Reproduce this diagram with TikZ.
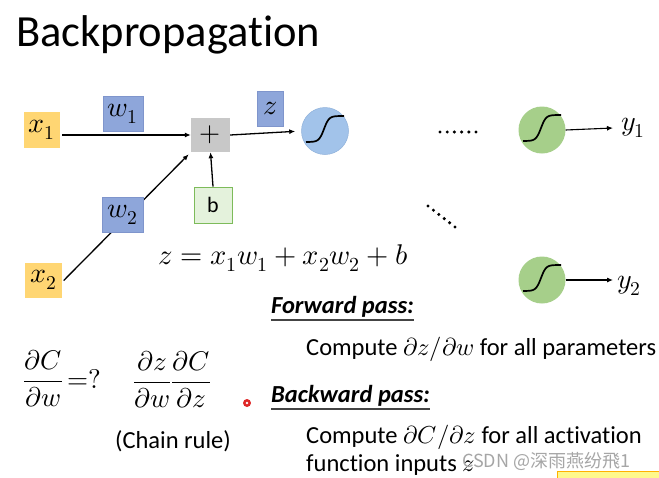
\documentclass[tikz,border=0pt]{standalone}
\usepackage{fontspec}
\setmainfont{Carlito}[Ligatures=NoCommon]
\usepackage{unicode-math}
\setmathfont{Latin Modern Math}
\newfontfamily\cjk{Noto Sans CJK SC}
\usetikzlibrary{arrows.meta,calc}
\definecolor{xyel}{HTML}{FFD673}
\definecolor{wblue}{HTML}{8EA6DA}
\definecolor{wblueb}{HTML}{7F95CC}
\definecolor{pgray}{HTML}{C8C8C8}
\definecolor{bgreen}{HTML}{E4F2DC}
\definecolor{bgreenb}{HTML}{7DBB5A}
\definecolor{cblue}{HTML}{A2C3EA}
\definecolor{cblueb}{HTML}{8FB1DA}
\definecolor{cgreen}{HTML}{A6CF8A}
\definecolor{uline}{HTML}{444444}
\tikzset{
  sz/.style={font=\fontsize{#1}{#1}\selectfont},
  xbox/.style={rectangle, fill=xyel, inner sep=0pt, minimum width=36pt, minimum height=36pt, sz=28},
  wbox/.style={rectangle, fill=wblue, draw=wblueb, line width=0.6pt, inner sep=0pt, minimum height=35pt, sz=28},
  pbox/.style={rectangle, fill=pgray, inner sep=0pt, minimum width=39pt, minimum height=34pt, sz=27},
  bbox/.style={rectangle, fill=bgreen, draw=bgreenb, line width=0.8pt, inner sep=0pt, minimum width=38pt, minimum height=36pt, sz=22},
  neuron/.style={circle, inner sep=0pt, minimum size=47pt},
  arr/.style={-{Latex[length=6pt,width=5pt]}, line width=1.3pt},
  sig/.style={line width=1.7pt, black},
  dotc/.style={fill=black},
  txt/.style={anchor=base west, inner sep=0pt, sz=24.5},
}
\begin{document}
\begin{tikzpicture}[x=1pt,y=-1pt]
\useasboundingbox (0,0) rectangle (659,477);
\fill[white] (0,0) rectangle (659,477);

\node[anchor=base west, inner sep=0pt, sz=44.5] (title) at (16,46) {Backpropagation};

% nodes under the connectors
\node[xbox] (x1) at (42,130) {$x_1$};
\node[pbox] (plus) at (210.5,135) {$+$};
\node[xbox, minimum width=37pt, minimum height=35pt] (x2) at (43.5,280) {$x_2$};
\node[bbox] (b) at (213,205) {b};
\node[neuron, fill=cblue, draw=cblueb, line width=0.5pt] (s1) at (325,131) {};
\node[neuron, fill=cgreen] (g1) at (542,130) {};
\node[neuron, fill=cgreen] (g2) at (542,280) {};

\draw[arr, shorten <=2pt] (x1.east |- plus.west) -- (plus.west);
\draw[arr, shorten <=2pt, shorten >=3pt] ($(x2.east)+(0,2)$) -- (plus.south west);
\draw[arr] (b.north) -- (plus.south);
\draw[arr, shorten >=6pt] (plus.east) -- (s1.west);

\node[wbox, minimum width=40pt] (w1) at (123,113.5) {$w_1$};
\node[wbox, minimum width=41pt] (w2) at (122.5,214.5) {$w_2$};
\node[wbox, minimum width=26pt] (z) at (270,108.5) {$z$};

% sigmoid curves
\foreach \n in {s1,g1,g2}{
  \draw[sig, shift={(\n)}] plot[domain=-19:19, samples=50, smooth] (\x, {-2-13*tanh(0.2*(\x+1))});
}

% outputs
\node[anchor=west, inner sep=0pt, sz=28] (y1) at (621,128) {$y_1$};
\node[anchor=west, inner sep=0pt, sz=28] (y2) at (617,286) {$y_2$};
\draw[arr, line width=1.1pt] (g1.east) -- (y1.west -| 613,0);
\draw[arr, line width=1.1pt] (g2.east) -- (613,280);

% dots
\foreach \i in {0,...,5}{
  \fill[dotc] (440+\i*7.2,132) circle (1.7pt);
  \fill[dotc] (428+\i*5.4,206+\i*4.2) circle (1.7pt);
}

% equation
\node[anchor=base west, inner sep=0pt, sz=28.5] (eq) at (158,264) {$z = x_1w_1 + x_2w_2 + b$};

% derivatives
\node[anchor=west, inner sep=0pt, sz=27] (q) at (23,379) {$\dfrac{\partial C}{\partial w}\,{=}?$};
\node[inner sep=0pt, sz=27] (chain) at (172,380) {$\dfrac{\partial z}{\partial w}\dfrac{\partial C}{\partial z}$};
\node[inner sep=0pt, sz=24.5] (cr) at (173,441) {(Chain rule)};

% laser dot
\fill[red!85!black, opacity=0.85] (247,403) circle (4pt);
\fill[white] (247,403) circle (1.3pt);

% right texts
\node[txt] (fp) at (271,313) {\textbf{\textit{Forward pass:}}};
\draw[uline, line width=1.6pt] ($(fp.base west)+(0,7)$) -- ($(fp.base east)+(0,7)$);
\node[txt] (c1) at (306,355) {Compute $\partial z/\partial w$ for all parameters};
\node[txt] (bp) at (271,402) {\textbf{\textit{Backward pass:}}};
\draw[uline, line width=1.6pt] ($(bp.base west)+(0,7)$) -- ($(bp.base east)+(0,7)$);
\node[txt] (c2) at (306,443) {Compute $\partial C/\partial z$ for all activation};
\node[txt] (c3) at (306,471) {function inputs $z$};

% watermark
\node[anchor=base west, inner sep=0pt, text=gray!70, font=\fontsize{18}{18}\cjk] (wm) at (462,467) {CSDN @深雨燕纷飛1};
\fill[yellow!45!white, draw=orange!60!yellow, line width=0.5pt] (557,471) rectangle (662,480);
\end{tikzpicture}
\end{document}
